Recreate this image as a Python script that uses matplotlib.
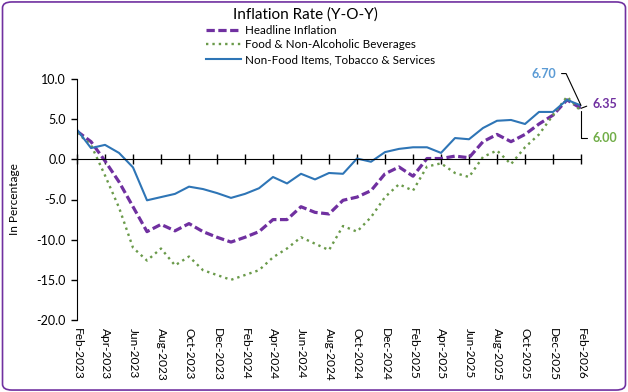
import matplotlib
matplotlib.use("Agg")
import matplotlib.pyplot as plt
from matplotlib.patches import FancyBboxPatch

plt.rcParams['font.family'] = ['Lato', 'DejaVu Sans']

months = list(range(37))  # Feb-2023 .. Feb-2026
tick_labels = ["Feb-2023", "Apr-2023", "Jun-2023", "Aug-2023", "Oct-2023", "Dec-2023",
               "Feb-2024", "Apr-2024", "Jun-2024", "Aug-2024", "Oct-2024", "Dec-2024",
               "Feb-2025", "Apr-2025", "Jun-2025", "Aug-2025", "Oct-2025", "Dec-2025",
               "Feb-2026"]

headline = [3.5, 2.2, -0.2, -2.8, -5.9, -9.0, -8.1, -8.9, -8.0, -9.0, -9.7, -10.3,
            -9.7, -9.0, -7.5, -7.5, -5.9, -6.6, -6.8, -5.1, -4.7, -3.9, -1.8, -0.95,
            -2.1, 0.1, 0.1, 0.4, 0.2, 2.2, 3.1, 2.2, 3.1, 4.4, 5.5, 7.4, 6.35]
food = [3.3, 1.8, -2.0, -6.0, -11.0, -12.6, -11.1, -13.2, -12.1, -13.8, -14.4, -15.0,
        -14.4, -13.8, -12.2, -11.1, -9.7, -10.5, -11.3, -8.3, -9.0, -7.2, -4.7, -3.1,
        -3.9, -0.9, -0.5, -1.7, -2.2, 0.3, 1.1, -0.6, 1.5, 3.1, 5.5, 7.8, 6.00]
nonfood = [3.7, 1.4, 1.8, 0.8, -1.0, -5.1, -4.7, -4.3, -3.4, -3.7, -4.2, -4.8,
           -4.3, -3.6, -2.2, -3.0, -1.8, -2.5, -1.7, -1.8, 0.1, -0.3, 0.9, 1.3,
           1.5, 1.5, 0.8, 2.65, 2.5, 3.9, 4.8, 4.9, 4.4, 5.9, 5.9, 7.4, 6.70]

PURPLE = '#7030A0'
GREEN = '#6A9A4A'
BLUE = '#2E75B6'

fig = plt.figure(figsize=(6.28, 3.92), dpi=100)
ax = fig.add_axes([77/628, (392-320)/392, (581-77)/628, (320-79)/392])

ax.plot(months, headline, color=PURPLE, lw=2.3, linestyle=(0, (2.6, 1.1)),
        label='Headline Inflation')
ax.plot(months, food, color=GREEN, lw=1.7, linestyle=(0, (1, 1.7)),
        label='Food & Non-Alcoholic Beverages')
ax.plot(months, nonfood, color=BLUE, lw=1.5, label='Non-Food Items, Tobacco & Services')

ax.set_xlim(0, 36)
ax.set_ylim(-20, 10)
ax.set_yticks([-20, -15, -10, -5, 0, 5, 10])
ax.set_yticklabels([f"{v:.1f}" for v in [-20, -15, -10, -5, 0, 5, 10]])
ax.tick_params(axis='y', direction='out', length=4, width=1, labelsize=9, pad=4)

ax.spines['top'].set_visible(False)
ax.spines['right'].set_visible(False)
ax.spines['bottom'].set_position(('data', 0))
ax.spines['left'].set_color('black')
ax.spines['bottom'].set_color('black')
ax.set_xticks(months[::2])
ax.tick_params(axis='x', direction='inout', length=7, width=1, labelbottom=False)

sec = ax.secondary_xaxis('bottom')
sec.set_xticks(months[::2])
sec.set_xticklabels(tick_labels, rotation=-90, fontsize=8.6)
sec.tick_params(axis='x', length=0, pad=6)
sec.spines['bottom'].set_visible(False)

ax.set_ylabel('In Percentage', fontsize=8.6, labelpad=12)

fig.text(0.487, 0.962, 'Inflation Rate (Y-O-Y)', ha='center', va='center', fontsize=11)
leg = fig.legend(loc='upper left', bbox_to_anchor=(206/628, 1 - 25/392), frameon=False,
                 fontsize=8.4, handlelength=3.0, handletextpad=0.35, labelspacing=0.3,
                 borderaxespad=0, borderpad=0)

# data labels with leader lines
ax.annotate(f"{nonfood[-1]:.2f}", xy=(months[-1], nonfood[-1]), xytext=(-18, 23),
            textcoords='offset points', ha='right', va='center', fontsize=9,
            fontweight='bold', color='#5B9BD5',
            arrowprops=dict(arrowstyle='-', color='black', lw=0.8, shrinkA=2, shrinkB=0,
                            relpos=(1, 0.5),
                            connectionstyle='angle,angleA=0,angleB=-65,rad=0'))
ax.annotate(f"{headline[-1]:.2f}", xy=(months[-1], headline[-1]), xytext=(8, 3),
            textcoords='offset points', ha='left', va='center', fontsize=9,
            fontweight='bold', color=PURPLE, annotation_clip=False,
            arrowprops=dict(arrowstyle='-', color='black', lw=0.8, shrinkA=2, shrinkB=0,
                            relpos=(0, 0.5)))
ax.annotate(f"{food[-1]:.2f}", xy=(months[-1], food[-1]), xytext=(8, -19),
            textcoords='offset points', ha='left', va='center', fontsize=9,
            fontweight='bold', color='#70AD47', annotation_clip=False,
            arrowprops=dict(arrowstyle='-', color='black', lw=0.8, shrinkA=2, shrinkB=0,
                            relpos=(0, 0.5),
                            connectionstyle='angle,angleA=180,angleB=90,rad=0'))

border = FancyBboxPatch((0.004, 0.005), 0.992, 0.99,
                        boxstyle='round,pad=0,rounding_size=0.015',
                        transform=fig.transFigure, fill=False, ec=PURPLE, lw=1.2)
fig.patches.append(border)

fig.savefig('out.png', dpi=100)
